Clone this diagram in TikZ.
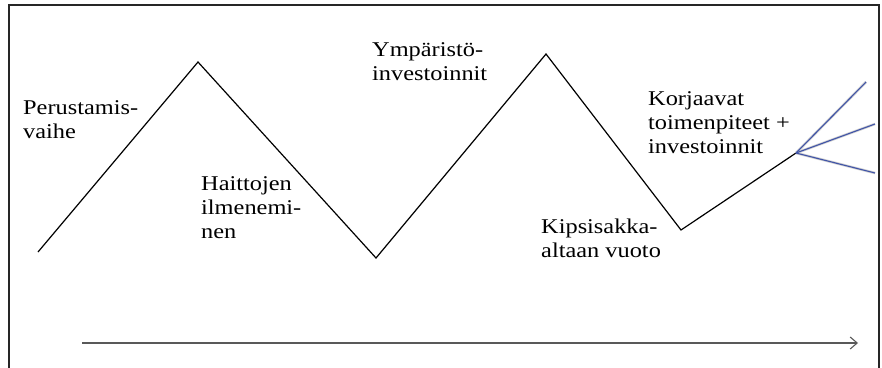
\documentclass[tikz,border=0pt]{standalone}
\usepackage{fontspec}
\setmainfont{Liberation Serif}[FakeStretch=1.16]
\usetikzlibrary{arrows.meta, positioning}

\begin{document}
\begin{tikzpicture}[
        x=1pt, y=-1pt,
        phase/.style={anchor=base west, align=left, inner sep=0pt, font=\fontsize{21}{24}\selectfont},
        zig/.style={line width=1.2pt, line join=miter},
        fan/.style={line width=1.1pt, draw={rgb,255:red,64;green,84;blue,168}},
        fanshadow/.style={line width=2.6pt, draw=black!18, shift={(1.5pt,-1.5pt)}},
        timeline/.style={line width=1.3pt, draw=black!65, -{Straight Barb[length=7pt, width=12pt, line width=1.1pt]}}
        ]
        \useasboundingbox (0,0) rectangle (882,367);
        \clip (0,0) rectangle (882,367);
        \draw[line width=1.4pt, draw=black!85] (9,5) rectangle (879,390);

        % turning points of the curve
        \coordinate (start) at (38,252);
        \coordinate (peakA) at (198,62);
        \coordinate (lowA) at (376,258);
        \coordinate (peakB) at (546,54);
        \coordinate (lowB) at (681,230);
        \coordinate (split) at (796,153);
        \coordinate (endA) at (866,82);
        \coordinate (endB) at (875,124);
        \coordinate (endC) at (875,173);

        \draw[zig] (start) -- (peakA) -- (lowA) -- (peakB) -- (lowB) -- (split);

        \draw[fanshadow] (split) -- (endA);
        \draw[fanshadow] (split) -- (endB);
        \draw[fanshadow] (split) -- (endC);
        \draw[fan] (split) -- (endA);
        \draw[fan] (split) -- (endB);
        \draw[fan] (split) -- (endC);

        % labels sit on the baseline of their last line
        \node[phase] (founding) at (23,138) {Perustamis-\\vaihe};
        \node[phase] (harms) at (201,238) {Haittojen\\ilmenemi-\\nen};
        \node[phase] (envinv) at (372,80) {Ympäristö-\\investoinnit};
        \node[phase] (leak) at (541,257) {Kipsisakka-\\altaan vuoto};
        \node[phase] (fixes) at (648,153) {Korjaavat\\toimenpiteet +\\investoinnit};

        \coordinate (tstart) at (82,343);
        \coordinate (tend) at (858,343);
        \draw[timeline] (tstart) -- (tend);
    \end{tikzpicture}
\end{document}
